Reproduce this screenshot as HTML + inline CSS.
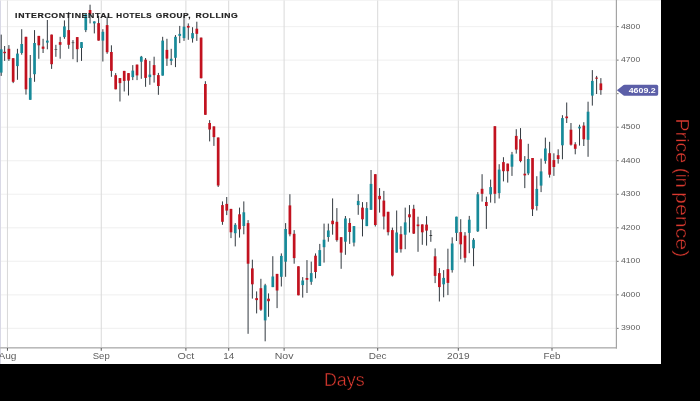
<!DOCTYPE html>
<html><head><meta charset="utf-8"><title>Chart</title>
<style>
html,body{margin:0;padding:0;background:#fff;}
body{width:700px;height:401px;overflow:hidden;position:relative;font-family:"Liberation Sans",sans-serif;}
svg{position:absolute;left:0;top:0;display:block;}
text{font-family:"Liberation Sans",sans-serif;}
.xl{font-size:9.6px;fill:#5e5e5e;}
.yl{font-size:7.7px;fill:#5c5c5c;}
.title{font-size:7.6px;font-weight:bold;fill:#222;letter-spacing:0.55px;stroke:#222;stroke-width:0.2px;}
.tag{font-size:7.3px;font-weight:bold;fill:#fff;}
.days{font-size:18px;fill:#dc3a30;stroke:#000;stroke-width:0.45px;}
.price{font-size:19px;fill:#dc3a30;stroke:#000;stroke-width:0.45px;}
</style></head><body>
<svg width="700" height="401" viewBox="0 0 700 401">
<rect x="0" y="0" width="700" height="401" fill="#fff"/>
<rect x="0" y="26.00" width="616" height="1.2" fill="#f2f2f2"/>
<rect x="0" y="59.53" width="616" height="1.2" fill="#f2f2f2"/>
<rect x="0" y="93.06" width="616" height="1.2" fill="#f2f2f2"/>
<rect x="0" y="126.59" width="616" height="1.2" fill="#f2f2f2"/>
<rect x="0" y="160.12" width="616" height="1.2" fill="#f2f2f2"/>
<rect x="0" y="193.65" width="616" height="1.2" fill="#f2f2f2"/>
<rect x="0" y="227.18" width="616" height="1.2" fill="#f2f2f2"/>
<rect x="0" y="260.71" width="616" height="1.2" fill="#f2f2f2"/>
<rect x="0" y="294.24" width="616" height="1.2" fill="#f2f2f2"/>
<rect x="0" y="327.77" width="616" height="1.2" fill="#f2f2f2"/>
<rect x="6.95" y="0" width="1" height="348" fill="#d9d9d9"/>
<rect x="100.75" y="0" width="1" height="348" fill="#d9d9d9"/>
<rect x="185.40" y="0" width="1" height="348" fill="#d9d9d9"/>
<rect x="228.20" y="0" width="1" height="348" fill="#d9d9d9"/>
<rect x="283.60" y="0" width="1" height="348" fill="#d9d9d9"/>
<rect x="377.20" y="0" width="1" height="348" fill="#d9d9d9"/>
<rect x="457.80" y="0" width="1" height="348" fill="#d9d9d9"/>
<rect x="551.50" y="0" width="1" height="348" fill="#d9d9d9"/>
<rect x="0" y="0" width="1" height="364" fill="#d9d9e6"/>
<rect x="0" y="0" width="661" height="0.6" fill="#ededed"/>
<rect x="0.71" y="34.6" width="1" height="41.3" fill="#333a40"/>
<rect x="-0.14" y="49.3" width="2.7" height="23.3" fill="#178a99"/>
<rect x="4.13" y="46.0" width="1" height="14.9" fill="#333a40"/>
<rect x="3.28" y="51.8" width="2.7" height="1.4" fill="#c2121f"/>
<rect x="8.40" y="45.1" width="1" height="15.8" fill="#333a40"/>
<rect x="7.55" y="48.8" width="2.7" height="10.4" fill="#c2121f"/>
<rect x="12.67" y="58.2" width="1" height="24.9" fill="#333a40"/>
<rect x="11.82" y="58.2" width="2.7" height="23.6" fill="#c2121f"/>
<rect x="16.94" y="48.8" width="1" height="31.0" fill="#333a40"/>
<rect x="16.09" y="53.6" width="2.7" height="12.5" fill="#178a99"/>
<rect x="21.21" y="29.2" width="1" height="25.5" fill="#333a40"/>
<rect x="20.36" y="44.0" width="2.7" height="9.0" fill="#178a99"/>
<rect x="25.48" y="36.8" width="1" height="57.8" fill="#333a40"/>
<rect x="24.63" y="36.8" width="2.7" height="52.5" fill="#c2121f"/>
<rect x="29.76" y="55.0" width="1" height="44.8" fill="#333a40"/>
<rect x="28.91" y="77.9" width="2.7" height="21.9" fill="#178a99"/>
<rect x="34.03" y="30.1" width="1" height="51.7" fill="#333a40"/>
<rect x="33.18" y="43.0" width="2.7" height="31.2" fill="#178a99"/>
<rect x="38.30" y="35.9" width="1" height="22.9" fill="#333a40"/>
<rect x="37.45" y="35.9" width="2.7" height="9.4" fill="#c2121f"/>
<rect x="42.57" y="38.8" width="1" height="14.2" fill="#333a40"/>
<rect x="41.72" y="46.6" width="2.7" height="2.2" fill="#c2121f"/>
<rect x="46.84" y="20.0" width="1" height="29.3" fill="#333a40"/>
<rect x="45.99" y="40.6" width="2.7" height="2.0" fill="#178a99"/>
<rect x="51.11" y="34.6" width="1" height="34.3" fill="#333a40"/>
<rect x="50.26" y="34.6" width="2.7" height="29.6" fill="#c2121f"/>
<rect x="55.38" y="44.8" width="1" height="12.0" fill="#333a40"/>
<rect x="54.53" y="49.0" width="2.7" height="0.8" fill="#555"/>
<rect x="59.65" y="36.8" width="1" height="21.9" fill="#333a40"/>
<rect x="58.80" y="42.1" width="2.7" height="2.7" fill="#c2121f"/>
<rect x="63.92" y="20.4" width="1" height="18.4" fill="#333a40"/>
<rect x="63.07" y="26.4" width="2.7" height="10.7" fill="#178a99"/>
<rect x="68.19" y="12.0" width="1" height="36.8" fill="#333a40"/>
<rect x="67.34" y="30.1" width="2.7" height="14.7" fill="#c2121f"/>
<rect x="72.47" y="40.1" width="1" height="19.1" fill="#333a40"/>
<rect x="71.62" y="42.3" width="2.7" height="0.8" fill="#555"/>
<rect x="76.74" y="37.1" width="1" height="25.1" fill="#333a40"/>
<rect x="75.89" y="37.1" width="2.7" height="12.1" fill="#c2121f"/>
<rect x="81.01" y="42.1" width="1" height="18.8" fill="#333a40"/>
<rect x="80.16" y="42.1" width="2.7" height="5.9" fill="#178a99"/>
<rect x="85.28" y="14.2" width="1" height="17.9" fill="#333a40"/>
<rect x="84.43" y="14.2" width="2.7" height="15.9" fill="#178a99"/>
<rect x="89.55" y="4.7" width="1" height="18.7" fill="#333a40"/>
<rect x="88.70" y="10.0" width="2.7" height="4.2" fill="#c2121f"/>
<rect x="93.82" y="21.4" width="1" height="12.0" fill="#333a40"/>
<rect x="92.97" y="21.4" width="2.7" height="2.0" fill="#178a99"/>
<rect x="98.09" y="15.9" width="1" height="24.7" fill="#333a40"/>
<rect x="97.24" y="23.1" width="2.7" height="17.5" fill="#c2121f"/>
<rect x="102.36" y="29.2" width="1" height="32.3" fill="#333a40"/>
<rect x="101.51" y="31.8" width="2.7" height="8.8" fill="#178a99"/>
<rect x="106.63" y="16.7" width="1" height="37.1" fill="#333a40"/>
<rect x="105.78" y="25.1" width="2.7" height="27.1" fill="#c2121f"/>
<rect x="110.90" y="45.3" width="1" height="31.5" fill="#333a40"/>
<rect x="110.05" y="52.0" width="2.7" height="18.9" fill="#c2121f"/>
<rect x="115.17" y="73.1" width="1" height="16.2" fill="#333a40"/>
<rect x="114.33" y="75.2" width="2.7" height="14.1" fill="#c2121f"/>
<rect x="119.45" y="78.1" width="1" height="23.4" fill="#333a40"/>
<rect x="118.60" y="78.1" width="2.7" height="5.0" fill="#c2121f"/>
<rect x="123.72" y="70.9" width="1" height="20.6" fill="#333a40"/>
<rect x="122.87" y="70.9" width="2.7" height="10.0" fill="#c2121f"/>
<rect x="127.99" y="73.1" width="1" height="22.4" fill="#333a40"/>
<rect x="127.14" y="73.1" width="2.7" height="7.5" fill="#c2121f"/>
<rect x="132.26" y="65.1" width="1" height="15.0" fill="#333a40"/>
<rect x="131.41" y="70.6" width="2.7" height="6.5" fill="#178a99"/>
<rect x="136.53" y="64.6" width="1" height="15.5" fill="#333a40"/>
<rect x="135.68" y="64.6" width="2.7" height="10.8" fill="#c2121f"/>
<rect x="140.80" y="55.9" width="1" height="22.9" fill="#333a40"/>
<rect x="139.95" y="56.7" width="2.7" height="5.0" fill="#178a99"/>
<rect x="145.07" y="58.0" width="1" height="28.8" fill="#333a40"/>
<rect x="144.22" y="59.7" width="2.7" height="18.2" fill="#c2121f"/>
<rect x="149.34" y="60.9" width="1" height="23.9" fill="#333a40"/>
<rect x="148.49" y="74.6" width="2.7" height="2.5" fill="#178a99"/>
<rect x="153.61" y="56.7" width="1" height="25.9" fill="#333a40"/>
<rect x="152.76" y="65.1" width="2.7" height="10.0" fill="#c2121f"/>
<rect x="157.88" y="72.9" width="1" height="21.9" fill="#333a40"/>
<rect x="157.03" y="75.1" width="2.7" height="10.9" fill="#c2121f"/>
<rect x="162.16" y="36.8" width="1" height="38.8" fill="#333a40"/>
<rect x="161.31" y="40.6" width="2.7" height="35.0" fill="#178a99"/>
<rect x="166.43" y="38.8" width="1" height="27.1" fill="#333a40"/>
<rect x="165.58" y="49.9" width="2.7" height="8.7" fill="#c2121f"/>
<rect x="170.70" y="48.8" width="1" height="16.3" fill="#333a40"/>
<rect x="169.85" y="58.8" width="2.7" height="2.1" fill="#178a99"/>
<rect x="174.97" y="35.1" width="1" height="32.0" fill="#333a40"/>
<rect x="174.12" y="36.8" width="2.7" height="21.0" fill="#178a99"/>
<rect x="179.24" y="25.9" width="1" height="17.2" fill="#333a40"/>
<rect x="178.39" y="33.9" width="2.7" height="2.0" fill="#178a99"/>
<rect x="183.51" y="15.9" width="1" height="25.0" fill="#333a40"/>
<rect x="182.66" y="26.7" width="2.7" height="11.4" fill="#178a99"/>
<rect x="187.78" y="23.4" width="1" height="16.4" fill="#333a40"/>
<rect x="186.93" y="25.9" width="2.7" height="1.7" fill="#c2121f"/>
<rect x="192.05" y="27.2" width="1" height="15.4" fill="#333a40"/>
<rect x="191.20" y="33.1" width="2.7" height="5.3" fill="#178a99"/>
<rect x="196.32" y="21.7" width="1" height="19.2" fill="#333a40"/>
<rect x="195.47" y="28.7" width="2.7" height="5.1" fill="#c2121f"/>
<rect x="200.59" y="37.6" width="1" height="40.8" fill="#333a40"/>
<rect x="199.75" y="37.6" width="2.7" height="40.6" fill="#c2121f"/>
<rect x="204.87" y="81.2" width="1" height="33.6" fill="#333a40"/>
<rect x="204.02" y="84.0" width="2.7" height="30.8" fill="#c2121f"/>
<rect x="209.14" y="120.1" width="1" height="21.3" fill="#333a40"/>
<rect x="208.29" y="123.0" width="2.7" height="6.5" fill="#c2121f"/>
<rect x="213.41" y="126.4" width="1" height="19.5" fill="#333a40"/>
<rect x="212.56" y="126.4" width="2.7" height="10.7" fill="#c2121f"/>
<rect x="217.68" y="137.5" width="1" height="49.5" fill="#333a40"/>
<rect x="216.83" y="137.5" width="2.7" height="48.0" fill="#c2121f"/>
<rect x="221.95" y="201.4" width="1" height="23.4" fill="#333a40"/>
<rect x="221.10" y="205.1" width="2.7" height="16.7" fill="#c2121f"/>
<rect x="226.22" y="197.0" width="1" height="18.1" fill="#333a40"/>
<rect x="225.37" y="203.9" width="2.7" height="6.7" fill="#c2121f"/>
<rect x="230.49" y="208.9" width="1" height="29.2" fill="#333a40"/>
<rect x="229.64" y="208.9" width="2.7" height="23.4" fill="#c2121f"/>
<rect x="234.76" y="223.1" width="1" height="23.3" fill="#333a40"/>
<rect x="233.91" y="224.8" width="2.7" height="8.4" fill="#178a99"/>
<rect x="239.03" y="207.6" width="1" height="30.0" fill="#333a40"/>
<rect x="238.18" y="214.3" width="2.7" height="15.0" fill="#c2121f"/>
<rect x="243.31" y="201.4" width="1" height="32.9" fill="#333a40"/>
<rect x="242.46" y="212.3" width="2.7" height="13.7" fill="#178a99"/>
<rect x="247.58" y="220.1" width="1" height="113.7" fill="#333a40"/>
<rect x="246.73" y="223.1" width="2.7" height="40.6" fill="#c2121f"/>
<rect x="251.85" y="259.7" width="1" height="38.9" fill="#333a40"/>
<rect x="251.00" y="268.4" width="2.7" height="15.9" fill="#c2121f"/>
<rect x="256.12" y="291.4" width="1" height="22.0" fill="#333a40"/>
<rect x="255.27" y="298.1" width="2.7" height="2.0" fill="#c2121f"/>
<rect x="260.39" y="278.8" width="1" height="32.1" fill="#333a40"/>
<rect x="259.54" y="288.2" width="2.7" height="21.5" fill="#c2121f"/>
<rect x="264.66" y="283.8" width="1" height="57.5" fill="#333a40"/>
<rect x="263.81" y="285.3" width="2.7" height="35.1" fill="#178a99"/>
<rect x="268.03" y="293.4" width="1" height="23.4" fill="#333a40"/>
<rect x="267.18" y="298.7" width="2.7" height="2.5" fill="#c2121f"/>
<rect x="272.30" y="256.2" width="1" height="30.9" fill="#333a40"/>
<rect x="271.45" y="276.5" width="2.7" height="10.6" fill="#178a99"/>
<rect x="276.57" y="273.9" width="1" height="34.2" fill="#333a40"/>
<rect x="275.72" y="273.9" width="2.7" height="16.6" fill="#c2121f"/>
<rect x="280.84" y="253.4" width="1" height="33.1" fill="#333a40"/>
<rect x="279.99" y="255.9" width="2.7" height="20.9" fill="#178a99"/>
<rect x="285.12" y="223.1" width="1" height="53.7" fill="#333a40"/>
<rect x="284.26" y="229.0" width="2.7" height="32.7" fill="#178a99"/>
<rect x="289.39" y="194.2" width="1" height="42.1" fill="#333a40"/>
<rect x="288.54" y="205.4" width="2.7" height="28.9" fill="#c2121f"/>
<rect x="293.66" y="230.1" width="1" height="33.6" fill="#333a40"/>
<rect x="292.81" y="233.8" width="2.7" height="24.3" fill="#c2121f"/>
<rect x="297.93" y="266.3" width="1" height="29.0" fill="#333a40"/>
<rect x="297.08" y="266.3" width="2.7" height="29.0" fill="#c2121f"/>
<rect x="302.20" y="277.1" width="1" height="20.5" fill="#333a40"/>
<rect x="301.35" y="280.5" width="2.7" height="4.6" fill="#178a99"/>
<rect x="306.47" y="260.1" width="1" height="32.9" fill="#333a40"/>
<rect x="305.62" y="278.0" width="2.7" height="1.8" fill="#c2121f"/>
<rect x="310.74" y="261.6" width="1" height="23.2" fill="#333a40"/>
<rect x="309.89" y="273.1" width="2.7" height="8.7" fill="#178a99"/>
<rect x="315.01" y="253.4" width="1" height="24.9" fill="#333a40"/>
<rect x="314.16" y="255.7" width="2.7" height="16.3" fill="#c2121f"/>
<rect x="319.28" y="243.9" width="1" height="22.1" fill="#333a40"/>
<rect x="318.43" y="250.1" width="2.7" height="15.9" fill="#178a99"/>
<rect x="323.55" y="223.6" width="1" height="39.0" fill="#333a40"/>
<rect x="322.70" y="239.7" width="2.7" height="7.5" fill="#178a99"/>
<rect x="327.82" y="223.6" width="1" height="18.1" fill="#333a40"/>
<rect x="326.97" y="230.5" width="2.7" height="6.5" fill="#178a99"/>
<rect x="332.10" y="198.4" width="1" height="36.3" fill="#333a40"/>
<rect x="331.25" y="220.7" width="2.7" height="3.5" fill="#c2121f"/>
<rect x="336.37" y="208.1" width="1" height="33.6" fill="#333a40"/>
<rect x="335.52" y="221.8" width="2.7" height="18.3" fill="#c2121f"/>
<rect x="340.64" y="237.2" width="1" height="31.6" fill="#333a40"/>
<rect x="339.79" y="237.2" width="2.7" height="15.4" fill="#c2121f"/>
<rect x="344.91" y="216.0" width="1" height="38.8" fill="#333a40"/>
<rect x="344.06" y="218.5" width="2.7" height="23.2" fill="#178a99"/>
<rect x="349.18" y="218.2" width="1" height="25.7" fill="#333a40"/>
<rect x="348.33" y="223.0" width="2.7" height="9.0" fill="#c2121f"/>
<rect x="353.45" y="226.0" width="1" height="20.4" fill="#333a40"/>
<rect x="352.60" y="226.1" width="2.7" height="16.5" fill="#178a99"/>
<rect x="357.72" y="194.2" width="1" height="20.6" fill="#333a40"/>
<rect x="356.87" y="200.9" width="2.7" height="4.2" fill="#178a99"/>
<rect x="361.99" y="202.1" width="1" height="34.3" fill="#333a40"/>
<rect x="361.14" y="207.6" width="2.7" height="11.7" fill="#c2121f"/>
<rect x="366.26" y="202.1" width="1" height="24.0" fill="#333a40"/>
<rect x="365.41" y="208.1" width="2.7" height="18.0" fill="#178a99"/>
<rect x="370.53" y="170.0" width="1" height="39.8" fill="#333a40"/>
<rect x="369.68" y="183.9" width="2.7" height="25.9" fill="#178a99"/>
<rect x="374.81" y="174.2" width="1" height="52.3" fill="#333a40"/>
<rect x="373.96" y="174.2" width="2.7" height="50.8" fill="#c2121f"/>
<rect x="379.08" y="188.1" width="1" height="24.5" fill="#333a40"/>
<rect x="378.23" y="195.9" width="2.7" height="3.4" fill="#c2121f"/>
<rect x="383.35" y="190.9" width="1" height="38.5" fill="#333a40"/>
<rect x="382.50" y="200.6" width="2.7" height="15.9" fill="#c2121f"/>
<rect x="387.62" y="211.8" width="1" height="23.6" fill="#333a40"/>
<rect x="386.77" y="211.8" width="2.7" height="20.4" fill="#c2121f"/>
<rect x="391.89" y="227.6" width="1" height="48.9" fill="#333a40"/>
<rect x="391.04" y="230.1" width="2.7" height="45.4" fill="#c2121f"/>
<rect x="396.16" y="210.5" width="1" height="42.1" fill="#333a40"/>
<rect x="395.31" y="232.5" width="2.7" height="20.1" fill="#178a99"/>
<rect x="400.43" y="226.2" width="1" height="26.4" fill="#333a40"/>
<rect x="399.58" y="234.2" width="2.7" height="15.0" fill="#c2121f"/>
<rect x="404.70" y="207.6" width="1" height="41.6" fill="#333a40"/>
<rect x="403.85" y="222.4" width="2.7" height="12.3" fill="#178a99"/>
<rect x="408.97" y="205.1" width="1" height="27.4" fill="#333a40"/>
<rect x="408.12" y="214.3" width="2.7" height="3.0" fill="#c2121f"/>
<rect x="413.25" y="204.8" width="1" height="29.2" fill="#333a40"/>
<rect x="412.39" y="208.8" width="2.7" height="24.8" fill="#c2121f"/>
<rect x="417.52" y="216.7" width="1" height="35.1" fill="#333a40"/>
<rect x="416.67" y="224.5" width="2.7" height="1.7" fill="#c2121f"/>
<rect x="421.79" y="224.4" width="1" height="20.4" fill="#333a40"/>
<rect x="420.94" y="224.4" width="2.7" height="7.9" fill="#c2121f"/>
<rect x="426.06" y="216.2" width="1" height="29.4" fill="#333a40"/>
<rect x="425.21" y="224.6" width="2.7" height="6.0" fill="#c2121f"/>
<rect x="430.33" y="230.1" width="1" height="11.7" fill="#333a40"/>
<rect x="429.48" y="235.1" width="2.7" height="0.8" fill="#222"/>
<rect x="434.60" y="248.4" width="1" height="34.7" fill="#333a40"/>
<rect x="433.75" y="256.3" width="2.7" height="19.6" fill="#c2121f"/>
<rect x="438.87" y="268.1" width="1" height="33.4" fill="#333a40"/>
<rect x="438.02" y="273.1" width="2.7" height="14.0" fill="#c2121f"/>
<rect x="443.14" y="270.1" width="1" height="27.2" fill="#333a40"/>
<rect x="442.29" y="277.9" width="2.7" height="6.4" fill="#178a99"/>
<rect x="447.41" y="248.7" width="1" height="46.4" fill="#333a40"/>
<rect x="446.56" y="269.2" width="2.7" height="13.7" fill="#c2121f"/>
<rect x="451.68" y="237.3" width="1" height="35.3" fill="#333a40"/>
<rect x="450.83" y="243.5" width="2.7" height="26.6" fill="#178a99"/>
<rect x="455.95" y="216.7" width="1" height="24.3" fill="#333a40"/>
<rect x="455.10" y="216.7" width="2.7" height="16.2" fill="#178a99"/>
<rect x="460.23" y="219.2" width="1" height="40.1" fill="#333a40"/>
<rect x="459.38" y="232.1" width="2.7" height="12.2" fill="#c2121f"/>
<rect x="464.50" y="232.1" width="1" height="30.4" fill="#333a40"/>
<rect x="463.65" y="235.6" width="2.7" height="22.2" fill="#c2121f"/>
<rect x="468.77" y="215.9" width="1" height="37.3" fill="#333a40"/>
<rect x="467.92" y="219.7" width="2.7" height="13.2" fill="#178a99"/>
<rect x="473.04" y="238.1" width="1" height="28.1" fill="#333a40"/>
<rect x="472.19" y="239.8" width="2.7" height="8.5" fill="#178a99"/>
<rect x="477.31" y="192.1" width="1" height="39.9" fill="#333a40"/>
<rect x="476.46" y="194.3" width="2.7" height="37.0" fill="#178a99"/>
<rect x="481.58" y="174.2" width="1" height="27.4" fill="#333a40"/>
<rect x="480.73" y="188.8" width="2.7" height="5.0" fill="#c2121f"/>
<rect x="485.85" y="196.6" width="1" height="32.3" fill="#333a40"/>
<rect x="485.00" y="202.0" width="2.7" height="4.0" fill="#c2121f"/>
<rect x="490.12" y="179.6" width="1" height="23.0" fill="#333a40"/>
<rect x="489.27" y="187.1" width="2.7" height="7.2" fill="#178a99"/>
<rect x="494.39" y="126.2" width="1" height="77.0" fill="#333a40"/>
<rect x="493.54" y="126.2" width="2.7" height="67.6" fill="#c2121f"/>
<rect x="498.66" y="164.2" width="1" height="34.3" fill="#333a40"/>
<rect x="497.81" y="169.6" width="2.7" height="23.5" fill="#178a99"/>
<rect x="502.94" y="157.2" width="1" height="24.2" fill="#333a40"/>
<rect x="502.09" y="162.1" width="2.7" height="9.1" fill="#c2121f"/>
<rect x="507.21" y="163.6" width="1" height="19.0" fill="#333a40"/>
<rect x="506.36" y="163.6" width="2.7" height="7.6" fill="#c2121f"/>
<rect x="511.48" y="151.9" width="1" height="24.0" fill="#333a40"/>
<rect x="510.63" y="154.5" width="2.7" height="12.2" fill="#178a99"/>
<rect x="515.75" y="129.2" width="1" height="24.4" fill="#333a40"/>
<rect x="514.90" y="135.9" width="2.7" height="13.7" fill="#c2121f"/>
<rect x="520.02" y="128.1" width="1" height="34.2" fill="#333a40"/>
<rect x="519.17" y="139.3" width="2.7" height="21.8" fill="#c2121f"/>
<rect x="524.29" y="156.1" width="1" height="32.0" fill="#333a40"/>
<rect x="523.44" y="173.7" width="2.7" height="1.7" fill="#c2121f"/>
<rect x="527.76" y="143.8" width="1" height="31.3" fill="#333a40"/>
<rect x="526.91" y="159.0" width="2.7" height="14.4" fill="#178a99"/>
<rect x="532.03" y="158.0" width="1" height="58.0" fill="#333a40"/>
<rect x="531.18" y="158.0" width="2.7" height="51.3" fill="#c2121f"/>
<rect x="536.30" y="176.2" width="1" height="34.3" fill="#333a40"/>
<rect x="535.45" y="188.9" width="2.7" height="17.1" fill="#178a99"/>
<rect x="540.58" y="158.6" width="1" height="33.5" fill="#333a40"/>
<rect x="539.73" y="171.4" width="2.7" height="14.2" fill="#178a99"/>
<rect x="544.85" y="137.6" width="1" height="26.1" fill="#333a40"/>
<rect x="544.00" y="148.5" width="2.7" height="12.4" fill="#178a99"/>
<rect x="549.12" y="141.8" width="1" height="35.8" fill="#333a40"/>
<rect x="548.27" y="153.2" width="2.7" height="21.5" fill="#c2121f"/>
<rect x="553.39" y="153.3" width="1" height="22.6" fill="#333a40"/>
<rect x="552.54" y="160.1" width="2.7" height="6.9" fill="#c2121f"/>
<rect x="557.66" y="149.3" width="1" height="14.3" fill="#333a40"/>
<rect x="556.81" y="155.2" width="2.7" height="3.8" fill="#c2121f"/>
<rect x="561.93" y="115.2" width="1" height="44.1" fill="#333a40"/>
<rect x="561.08" y="118.1" width="2.7" height="27.2" fill="#178a99"/>
<rect x="566.20" y="102.5" width="1" height="20.5" fill="#333a40"/>
<rect x="565.35" y="116.5" width="2.7" height="1.7" fill="#c2121f"/>
<rect x="570.47" y="123.0" width="1" height="22.6" fill="#333a40"/>
<rect x="569.62" y="129.7" width="2.7" height="15.0" fill="#c2121f"/>
<rect x="574.74" y="142.2" width="1" height="12.1" fill="#333a40"/>
<rect x="573.89" y="144.3" width="2.7" height="4.5" fill="#c2121f"/>
<rect x="579.01" y="124.7" width="1" height="20.9" fill="#333a40"/>
<rect x="578.16" y="126.7" width="2.7" height="1.7" fill="#178a99"/>
<rect x="583.29" y="122.2" width="1" height="23.8" fill="#333a40"/>
<rect x="582.44" y="125.6" width="2.7" height="13.7" fill="#c2121f"/>
<rect x="587.56" y="101.7" width="1" height="55.1" fill="#333a40"/>
<rect x="586.71" y="111.7" width="2.7" height="28.1" fill="#178a99"/>
<rect x="591.83" y="70.1" width="1" height="35.5" fill="#333a40"/>
<rect x="590.98" y="80.9" width="2.7" height="14.7" fill="#178a99"/>
<rect x="596.10" y="75.9" width="1" height="18.1" fill="#333a40"/>
<rect x="595.25" y="77.6" width="2.7" height="1.1" fill="#c2121f"/>
<rect x="600.37" y="78.1" width="1" height="16.7" fill="#333a40"/>
<rect x="599.52" y="83.4" width="2.7" height="6.7" fill="#c2121f"/>
<rect x="0" y="347" width="617" height="1.6" fill="#bababa"/>
<rect x="615.8" y="0" width="1.2" height="348.5" fill="#a4a4a4"/>
<rect x="6.95" y="348" width="1" height="2.8" fill="#5a5a5a"/>
<text x="7.45" y="358.8" text-anchor="middle" textLength="18" lengthAdjust="spacingAndGlyphs" class="xl">Aug</text>
<rect x="100.75" y="348" width="1" height="2.8" fill="#5a5a5a"/>
<text x="101.25" y="358.8" text-anchor="middle" textLength="17" lengthAdjust="spacingAndGlyphs" class="xl">Sep</text>
<rect x="185.40" y="348" width="1" height="2.8" fill="#5a5a5a"/>
<text x="185.90" y="358.8" text-anchor="middle" textLength="16.75" lengthAdjust="spacingAndGlyphs" class="xl">Oct</text>
<rect x="228.20" y="348" width="1" height="2.8" fill="#5a5a5a"/>
<text x="228.70" y="358.8" text-anchor="middle" textLength="11" lengthAdjust="spacingAndGlyphs" class="xl">14</text>
<rect x="283.60" y="348" width="1" height="2.8" fill="#5a5a5a"/>
<text x="284.10" y="358.8" text-anchor="middle" textLength="18.75" lengthAdjust="spacingAndGlyphs" class="xl">Nov</text>
<rect x="377.20" y="348" width="1" height="2.8" fill="#5a5a5a"/>
<text x="377.70" y="358.8" text-anchor="middle" textLength="17.75" lengthAdjust="spacingAndGlyphs" class="xl">Dec</text>
<rect x="457.80" y="348" width="1" height="2.8" fill="#5a5a5a"/>
<text x="458.30" y="358.8" text-anchor="middle" textLength="22.5" lengthAdjust="spacingAndGlyphs" class="xl">2019</text>
<rect x="551.50" y="348" width="1" height="2.8" fill="#5a5a5a"/>
<text x="552.00" y="358.8" text-anchor="middle" textLength="17" lengthAdjust="spacingAndGlyphs" class="xl">Feb</text>
<rect x="617" y="26.10" width="1.6" height="1" fill="#777"/>
<text x="621" y="28.95" textLength="19.2" lengthAdjust="spacingAndGlyphs" class="yl">4800</text>
<rect x="617" y="59.63" width="1.6" height="1" fill="#777"/>
<text x="621" y="62.43" textLength="19.2" lengthAdjust="spacingAndGlyphs" class="yl">4700</text>
<rect x="617" y="93.16" width="1.6" height="1" fill="#777"/>
<rect x="617" y="126.69" width="1.6" height="1" fill="#777"/>
<text x="621" y="129.39" textLength="19.2" lengthAdjust="spacingAndGlyphs" class="yl">4500</text>
<rect x="617" y="160.22" width="1.6" height="1" fill="#777"/>
<text x="621" y="162.87" textLength="19.2" lengthAdjust="spacingAndGlyphs" class="yl">4400</text>
<rect x="617" y="193.75" width="1.6" height="1" fill="#777"/>
<text x="621" y="196.35" textLength="19.2" lengthAdjust="spacingAndGlyphs" class="yl">4300</text>
<rect x="617" y="227.28" width="1.6" height="1" fill="#777"/>
<text x="621" y="229.83" textLength="19.2" lengthAdjust="spacingAndGlyphs" class="yl">4200</text>
<rect x="617" y="260.81" width="1.6" height="1" fill="#777"/>
<text x="621" y="263.31" textLength="19.2" lengthAdjust="spacingAndGlyphs" class="yl">4100</text>
<rect x="617" y="294.34" width="1.6" height="1" fill="#777"/>
<text x="621" y="296.79" textLength="19.2" lengthAdjust="spacingAndGlyphs" class="yl">4000</text>
<rect x="617" y="327.87" width="1.6" height="1" fill="#777"/>
<text x="621" y="330.27" textLength="19.2" lengthAdjust="spacingAndGlyphs" class="yl">3900</text>
<text y="18.1" class="title"><tspan x="15.1" textLength="97.9" lengthAdjust="spacingAndGlyphs">INTERCONTINENTAL</tspan> <tspan x="116.3" textLength="35.9" lengthAdjust="spacingAndGlyphs">HOTELS</tspan> <tspan x="155.7" textLength="35.4" lengthAdjust="spacingAndGlyphs">GROUP,</tspan> <tspan x="195.4" textLength="43" lengthAdjust="spacingAndGlyphs">ROLLING</tspan></text>
<path d="M616.9 90.25 L623.6 85.1 Q624.2 84.8 624.8 84.8 H656.6 Q658.2 84.8 658.2 86.4 V94.1 Q658.2 95.7 656.6 95.7 H624.8 Q624.2 95.7 623.6 95.4 Z" fill="#5c5fa8"/>
<text x="628.7" y="92.9" textLength="27" lengthAdjust="spacingAndGlyphs" class="tag">4609.2</text>
<rect x="661" y="0" width="39" height="401" fill="#000"/>
<rect x="0" y="364" width="700" height="37" fill="#000"/>
<text x="324" y="385.9" textLength="40.6" lengthAdjust="spacingAndGlyphs" class="days">Days</text>
<text transform="translate(676.2,118.6) rotate(90)" class="price"><tspan x="0" textLength="44.6" lengthAdjust="spacingAndGlyphs">Price</tspan> <tspan x="49.4" textLength="19.6" lengthAdjust="spacingAndGlyphs">(in</tspan> <tspan x="73.5" textLength="65.2" lengthAdjust="spacingAndGlyphs">pence)</tspan></text>
</svg>
</body></html>
